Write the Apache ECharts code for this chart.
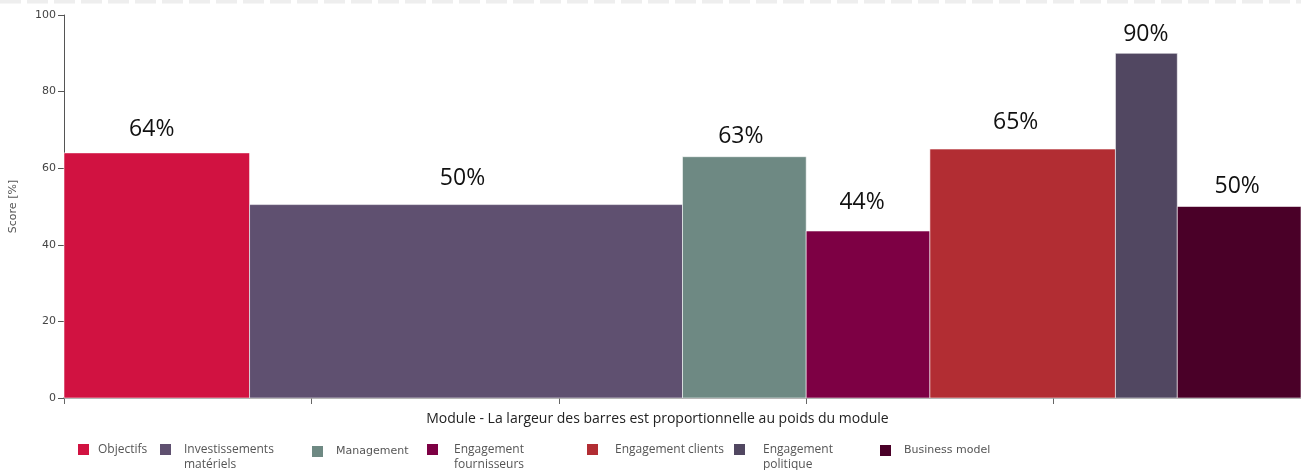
<!DOCTYPE html>
<html><head><meta charset="utf-8">
<script src="https://cdn.jsdelivr.net/npm/echarts@6/dist/echarts.min.js"></script>
<style>html,body{margin:0;padding:0;background:#fff}#c{width:1301px;height:470px}</style>
</head><body><div id="c"></div>
<script>
var modules = ['Objectifs', 'Investissements matériels', 'Management', 'Engagement fournisseurs', 'Engagement clients', 'Engagement politique', 'Business model'];
var legendLabels = ['Objectifs', 'Investissements\nmatériels', 'Management', 'Engagement\nfournisseurs', 'Engagement clients', 'Engagement\npolitique', 'Business model'];
var weights = [0.75, 1.75, 0.5, 0.5, 0.75, 0.25, 0.5];
var scores = [64, 50.5, 63, 43.6, 65, 90, 50];
var scoreLabels = ['64%', '50%', '63%', '44%', '65%', '90%', '50%'];
var colors = ['#D11241', '#5F5070', '#6E8983', '#7D0044', '#B22D33', '#514761', '#4A0028'];
var yTicks = [0, 20, 40, 60, 80, 100];

// label placement styling (pixel offsets relative to bar top-centre)
var labelGap = [12.2, 14.5, 8.8, 17.2, 14.8, 7.7, 8.3];
var labelDx = [-5, -3.5, -3.5, -6, -7, -0.5, -2];

var chart = echarts.init(document.getElementById('c'));
var starts = [];
var acc = 0;
weights.forEach(function (w) { starts.push(acc); acc += w; });

var legendLeft = [78, 160, 312, 427, 587, 734, 880];
var legendPad = [4, 8, 8, 11, 12, 13, 8];
var legendFont = ['Open Sans', 'Open Sans', 'DejaVu Sans', 'Open Sans', 'Open Sans', 'Open Sans', 'DejaVu Sans'];
var legendSize = [12, 12, 11, 12, 12, 12, 11];
var legendTop = [442, 427, 444, 427, 442, 427, 443];

var legends = modules.map(function (m, i) {
  var twoLine = legendLabels[i].indexOf('\n') >= 0;
  return {
    data: [m], left: legendLeft[i], top: legendTop[i], padding: 0,
    icon: 'rect', itemWidth: 11, itemHeight: 11, selectedMode: false,
    formatter: function () { return twoLine ? ' \n' + legendLabels[i] : legendLabels[i]; },
    textStyle: {
      fontFamily: legendFont[i], fontSize: legendSize[i], color: '#555', lineHeight: 15,
      padding: [0, 0, 0, legendPad[i]]
    }
  };
});

var series = modules.map(function (m, i) {
  return {
    type: 'custom', name: m, color: colors[i],
    data: [[starts[i], starts[i] + weights[i], scores[i]]],
    encode: { x: [0, 1], y: 2 },
    renderItem: function (params, api) {
      var p0 = api.coord([api.value(0), 0]);
      var p1 = api.coord([api.value(1), api.value(2)]);
      return {
        type: 'group',
        children: [{
          type: 'rect',
          shape: { x: p0[0], y: p1[1], width: p1[0] - p0[0], height: p0[1] - p1[1] },
          style: { fill: colors[i], stroke: 'rgba(255,255,255,0.55)', lineWidth: 1 }
        }, {
          type: 'text',
          x: (p0[0] + p1[0]) / 2 + labelDx[i], y: p1[1] - labelGap[i],
          style: { text: scoreLabels[i], fontFamily: 'Open Sans', fontSize: 23, fill: '#111', align: 'center', verticalAlign: 'bottom' }
        }]
      };
    }
  };
});

chart.setOption({
  animation: false,
  legend: legends,
  grid: { left: 64, right: 0, top: 15, bottom: 72 },
  xAxis: {
    type: 'value', min: 0, max: 5, interval: 1,
    name: 'Module - La largeur des barres est proportionnelle au poids du module',
    nameLocation: 'middle', nameGap: 14,
    nameTextStyle: { fontFamily: 'Open Sans', fontSize: 14, color: '#222', padding: [0, 50, 0, 0] },
    axisLine: { show: true, lineStyle: { color: '#999', width: 2 } },
    axisTick: { show: true, length: 6, lineStyle: { color: '#666' } },
    axisLabel: { show: false },
    splitLine: { show: false }
  },
  yAxis: {
    type: 'value', min: yTicks[0], max: yTicks[yTicks.length - 1], interval: 20,
    name: 'Score [%]', nameLocation: 'middle', nameGap: 45,
    nameTextStyle: { fontFamily: 'DejaVu Sans', fontSize: 11, color: '#555' },
    axisLine: { show: true, lineStyle: { color: '#555' } },
    axisTick: { show: true, length: 6, lineStyle: { color: '#555' } },
    axisLabel: { fontFamily: 'DejaVu Sans', fontSize: 11, color: '#444', margin: 8 },
    splitLine: { show: false }
  },
  graphic: [{
    type: 'line', shape: { x1: 0, y1: 1.5, x2: 1301, y2: 1.5 },
    style: { stroke: '#eeeeee', lineWidth: 4, lineDash: [21, 6] }
  }],
  series: series
});
</script></body></html>
